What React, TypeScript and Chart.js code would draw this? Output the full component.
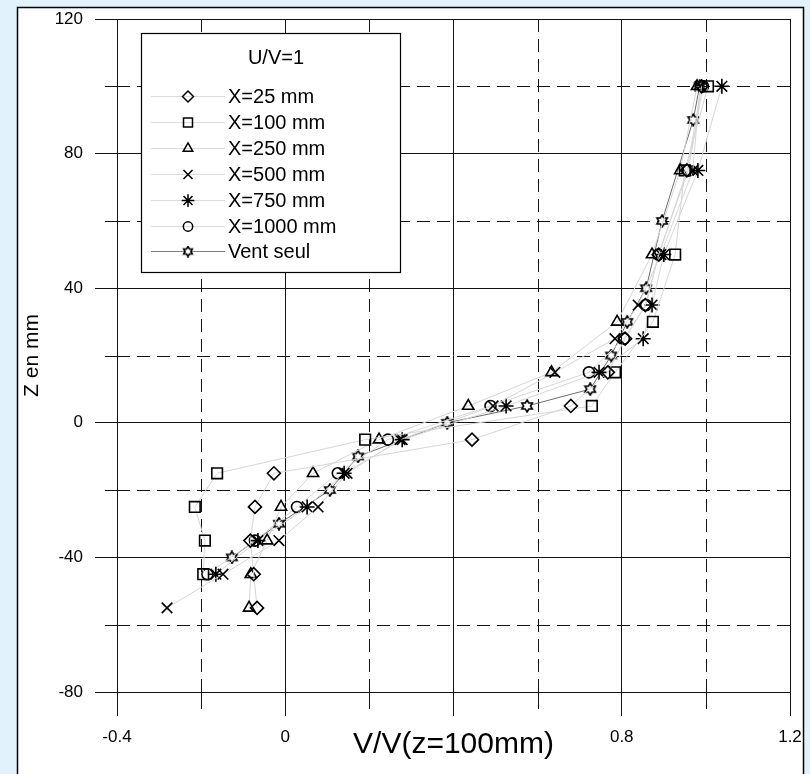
import React, { useEffect, useRef } from 'react';
import { Chart, registerables } from 'chart.js';
import { drawPoint } from 'chart.js/helpers';

Chart.register(...registerables);

// ---- data (V/V(z=100mm) vs Z in mm) ----
const z25 = [100, 75, 50, 35, 25, 15, 5, -5, -15, -25, -35, -45, -55];
const v25 = [0.99, 0.955, 0.888, 0.856, 0.808, 0.767, 0.679, 0.444, -0.027, -0.072, -0.083, -0.075, -0.067];

const z100 = [100, 75, 50, 30, 15, 5, -5, -15, -25, -35, -45];
const v100 = [1.005, 0.95, 0.927, 0.874, 0.784, 0.729, 0.19, -0.162, -0.215, -0.191, -0.195];

const z250 = [100, 75, 50, 30, 15, 5, -5, -15, -25, -35, -45, -55];
const v250 = [0.979, 0.939, 0.872, 0.789, 0.633, 0.435, 0.223, 0.066, -0.01, -0.043, -0.082, -0.086];

const z500 = [100, 75, 50, 35, 25, 15, 5, -5, -15, -25, -35, -45, -55];
const v500 = [0.986, 0.969, 0.893, 0.839, 0.784, 0.641, 0.494, 0.273, 0.147, 0.078, -0.015, -0.148, -0.281];

const z750 = [100, 75, 50, 35, 25, 15, 5, -5, -15, -25, -35, -45];
const v750 = [1.038, 0.981, 0.9, 0.872, 0.851, 0.746, 0.525, 0.278, 0.14, 0.052, -0.065, -0.165];

const z1000 = [100, 75, 50, 35, 25, 15, 5, -5, -15, -25, -35, -45];
const v1000 = [0.993, 0.958, 0.887, 0.858, 0.805, 0.722, 0.488, 0.244, 0.125, 0.028, -0.072, -0.185];

const zVent = [100, 90, 60, 40, 30, 20, 10, 5, 0, -10, -20, -30, -40];
const vVent = [0.985, 0.97, 0.896, 0.858, 0.813, 0.775, 0.725, 0.575, 0.385, 0.173, 0.106, -0.015, -0.127];

const seriesNames = ['X=25 mm', 'X=100 mm', 'X=250 mm', 'X=500 mm', 'X=750 mm', 'X=1000 mm', 'Vent seul'];
const legendTitle = 'U/V=1';

const xTickValues = [-0.4, 0, 0.4, 0.8, 1.2];
const xTickLabels = ['-0.4', '0', '', '0.8', '1.2'];
const yTickValues = [-80, -40, 0, 40, 80, 120];
const yTickLabels = ['-80', '-40', '0', '40', '80', '120'];
const xMinorTicks = [-0.2, 0.2, 0.6, 1.0];
const yMinorTicks = [-60, -20, 20, 60, 100];

const FONT = '"Liberation Sans", Arial, sans-serif';

function makeHexagram(size: number): HTMLCanvasElement {
  const c = document.createElement('canvas');
  c.width = size;
  c.height = size;
  const ctx = c.getContext('2d')!;
  const cx = size / 2, cy = size / 2;
  const R = size / 2 - 1;
  const r = R / Math.sqrt(3);
  ctx.beginPath();
  for (let i = 0; i < 12; i++) {
    const a = -Math.PI / 2 + (i * Math.PI) / 6;
    const rr = i % 2 === 0 ? R : r;
    const x = cx + rr * Math.cos(a), y = cy + rr * Math.sin(a);
    if (i === 0) ctx.moveTo(x, y); else ctx.lineTo(x, y);
  }
  ctx.closePath();
  ctx.fillStyle = '#fff';
  ctx.fill();
  ctx.lineWidth = 1.6;
  ctx.strokeStyle = '#000';
  ctx.stroke();
  return c;
}

const bgPlugin = {
  id: 'bgFrame',
  beforeDraw(chart: any) {
    const ctx = chart.ctx;
    ctx.save();
    ctx.fillStyle = '#e2f2fc';
    ctx.fillRect(0, 0, chart.width, chart.height);
    ctx.fillStyle = '#ffffff';
    ctx.fillRect(17, 7, 787, 790);
    ctx.strokeStyle = '#000';
    ctx.lineWidth = 1.5;
    ctx.strokeRect(17.5, 7.5, 786, 790);
    ctx.restore();
  },
};

const minorGridPlugin = {
  id: 'minorGrid',
  beforeDatasetsDraw(chart: any) {
    const { ctx, chartArea: a, scales } = chart;
    const x = scales.x, y = scales.y;
    ctx.save();
    ctx.strokeStyle = '#111';
    ctx.lineWidth = 1;
    const line = (x1: number, y1: number, x2: number, y2: number) => {
      ctx.beginPath();
      ctx.moveTo(x1, y1);
      ctx.lineTo(x2, y2);
      ctx.stroke();
    };
    for (const v of xMinorTicks) {
      const px = Math.round(x.getPixelForValue(v)) + 0.5;
      ctx.setLineDash([13, 7]);
      line(px, a.top, px, a.bottom);
      ctx.setLineDash([]);
      line(px, a.bottom - 4, px, a.bottom + 17);
    }
    for (const v of yMinorTicks) {
      const py = Math.round(y.getPixelForValue(v)) + 0.5;
      ctx.setLineDash([13, 7]);
      line(a.left, py, a.right, py);
      ctx.setLineDash([]);
      line(a.left - 12, py, a.left + 11, py);
    }
    ctx.restore();
  },
};

export default function App() {
  const ref = useRef<HTMLCanvasElement>(null);

  useEffect(() => {
    if (!ref.current) return;
    const hex = makeHexagram(14);
    const hexSmall = makeHexagram(12);

    const specs = [
      { z: z25, v: v25, style: 'rectRot', radius: 6.5, line: '#d6d6d6' },
      { z: z100, v: v100, style: 'rect', radius: 7.5, line: '#d6d6d6' },
      { z: z250, v: v250, style: 'triangle', radius: 6.5, line: '#d6d6d6' },
      { z: z500, v: v500, style: 'crossRot', radius: 7.5, line: '#d6d6d6' },
      { z: z750, v: v750, style: 'star', radius: 7.5, line: '#d6d6d6' },
      { z: z1000, v: v1000, style: 'circle', radius: 5.5, line: '#d6d6d6' },
      { z: zVent, v: vVent, style: hex as any, radius: 7, line: '#6e6e6e' },
    ];

    const datasets = specs.map((s, i) => ({
      label: seriesNames[i],
      data: s.z.map((zz, k) => ({ x: s.v[k], y: zz })),
      showLine: true,
      borderColor: s.line,
      borderWidth: 1,
      pointStyle: s.style,
      pointRadius: s.radius,
      pointBorderColor: '#000',
      pointBackgroundColor: 'rgba(0,0,0,0)',
      pointBorderWidth: 1.6,
      pointHoverRadius: s.radius,
    }));

    const legendPlugin = {
      id: 'customLegend',
      afterDatasetsDraw(chart: any) {
        const ctx = chart.ctx;
        const left = 141, top = 33, right = 400, bottom = 272;
        ctx.save();
        ctx.fillStyle = '#fff';
        ctx.fillRect(left, top, right - left, bottom - top);
        ctx.strokeStyle = '#000';
        ctx.lineWidth = 1.2;
        ctx.strokeRect(left + 0.5, top + 0.5, right - left, bottom - top);
        ctx.fillStyle = '#000';
        ctx.font = `20px ${FONT}`;
        ctx.textAlign = 'center';
        ctx.textBaseline = 'middle';
        ctx.fillText(legendTitle, 276, 58);
        const rows = [96, 122, 148, 174, 200, 226, 251];
        specs.forEach((s, i) => {
          const yy = rows[i] + 0.5;
          ctx.strokeStyle = i === 6 ? '#808080' : '#dcdcdc';
          ctx.lineWidth = 1;
          ctx.beginPath();
          ctx.moveTo(151, yy);
          ctx.lineTo(225, yy);
          ctx.stroke();
          ctx.strokeStyle = '#000';
          ctx.fillStyle = 'rgba(0,0,0,0)';
          ctx.lineWidth = 1.5;
          drawPoint(ctx, {
            pointStyle: i === 6 ? hexSmall : s.style,
            radius: s.radius * 0.85,
            rotation: 0,
            borderWidth: 1.5,
          } as any, 188, yy);
          ctx.fillStyle = '#000';
          ctx.textAlign = 'left';
          ctx.fillText(seriesNames[i], 228, rows[i] + 1);
        });
        ctx.restore();
      },
    };

    const chart = new Chart(ref.current, {
      type: 'scatter',
      data: { datasets: datasets as any },
      options: {
        responsive: false,
        animation: false,
        events: [],
        layout: { padding: { top: 19, right: 20, left: 0, bottom: 0 } },
        plugins: {
          legend: { display: false },
          tooltip: { enabled: false },
        },
        scales: {
          x: {
            type: 'linear',
            min: -0.4,
            max: 1.2,
            afterFit: (s: any) => {
              s.height = 82;
              s.paddingLeft = 0;
              s.paddingRight = 0;
            },
            afterBuildTicks: (s: any) => { s.ticks = xTickValues.map((v) => ({ value: v })); },
            ticks: {
              autoSkip: false,
              maxRotation: 0,
              color: '#000',
              padding: 11,
              font: { family: FONT, size: 17 },
              callback: (v: any) => {
                const i = xTickValues.findIndex((t) => Math.abs(t - Number(v)) < 1e-6);
                return i >= 0 ? xTickLabels[i] : '';
              },
            },
            grid: { color: '#111', lineWidth: 1, tickLength: 24, tickColor: '#111' },
            border: { display: true, color: '#111', width: 1 },
            title: {
              display: true,
              text: 'V/V(z=100mm)',
              color: '#000',
              font: { family: FONT, size: 30 },
              padding: { top: 0, bottom: 11 },
            },
          },
          y: {
            type: 'linear',
            min: -80,
            max: 120,
            afterFit: (s: any) => {
              s.width = 117;
              s.paddingTop = 0;
              s.paddingBottom = 0;
            },
            afterBuildTicks: (s: any) => { s.ticks = yTickValues.map((v) => ({ value: v })); },
            ticks: {
              autoSkip: false,
              color: '#000',
              padding: 12,
              font: { family: FONT, size: 17 },
              callback: (v: any) => {
                const i = yTickValues.findIndex((t) => Math.abs(t - Number(v)) < 1e-6);
                return i >= 0 ? yTickLabels[i] : '';
              },
            },
            grid: { color: '#111', lineWidth: 1, tickLength: 22, tickColor: '#111' },
            border: { display: true, color: '#111', width: 1 },
            title: {
              display: true,
              text: 'Z en mm',
              color: '#000',
              font: { family: FONT, size: 21 },
              padding: { top: 20, bottom: 0 },
            },
          },
        },
      },
      plugins: [bgPlugin, minorGridPlugin, legendPlugin],
    });

    return () => chart.destroy();
  }, []);

  return (
    <div style={{ position: 'absolute', left: 0, top: 0, width: 810, height: 774, overflow: 'hidden' }}>
      <canvas ref={ref} width={810} height={774} style={{ display: 'block' }} />
    </div>
  );
}
